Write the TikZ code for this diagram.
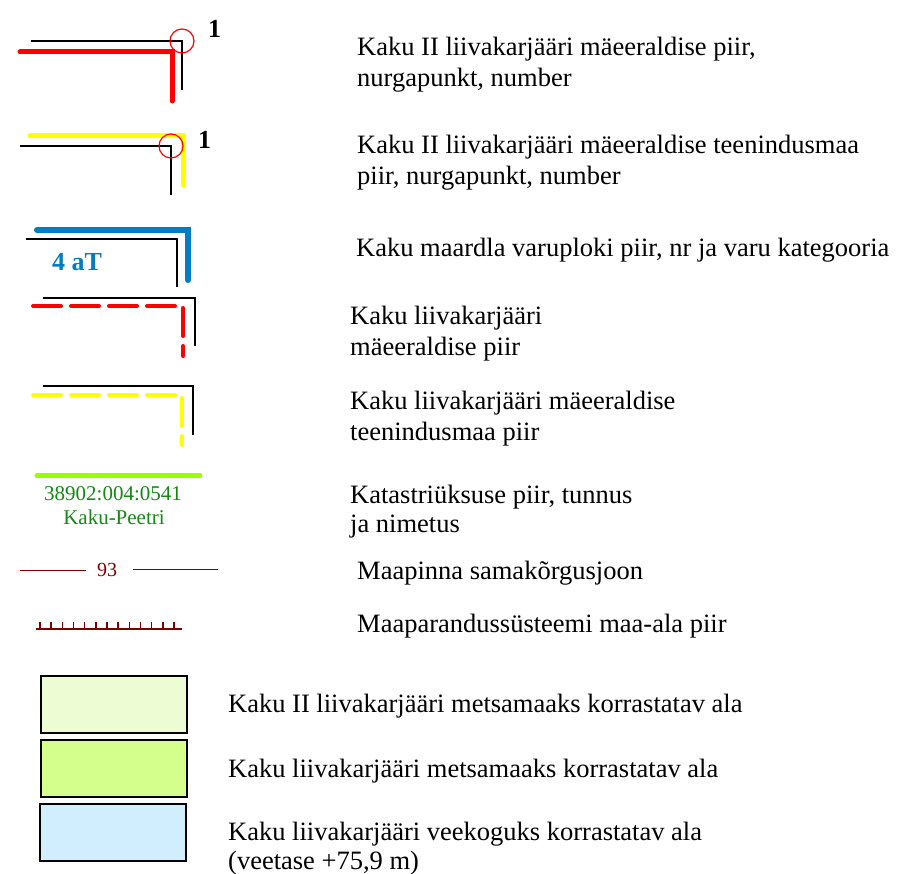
\documentclass[tikz,border=0pt]{standalone}
\usepackage{fontspec}
\setmainfont{Liberation Serif}
\definecolor{kred}{RGB}{255,0,0}
\definecolor{kyellow}{RGB}{255,255,0}
\definecolor{kblue}{RGB}{0,125,195}
\definecolor{klime}{RGB}{153,255,0}
\definecolor{kgreen}{RGB}{20,135,20}
\definecolor{kmaroon}{RGB}{128,0,0}
\definecolor{fillA}{RGB}{237,252,211}
\definecolor{fillB}{RGB}{213,255,141}
\definecolor{fillC}{RGB}{209,238,254}
\tikzset{
  thinblack/.style={draw=black, line width=1.1pt},
  bound/.style={line width=5pt, line cap=round},
  dashbound/.style={line width=4pt, line cap=round, dash pattern=on 28pt off 10pt},
  corner/.style={draw=kred, line width=1.2pt},
  legtext/.style={anchor=base west, align=left, inner sep=0pt, font=\fontsize{26.5}{31}\selectfont},
  legtextb/.style={anchor=base west, align=left, inner sep=0pt, font=\fontsize{26.5}{29}\selectfont},
  numlabel/.style={anchor=base west, inner sep=0pt, font=\fontsize{26}{30}\selectfont\bfseries},
  areabox/.style={draw=black, line width=1.2pt},
}
\begin{document}
\begin{tikzpicture}[x=1pt,y=-1pt]
\useasboundingbox (0,0) rectangle (898,874);

% 1: red boundary with corner point
\draw[thinblack] (31,41) -- (182,41) -- (182,90);
\draw[bound, draw=kred] (20,52) -- (172,52) -- (172,101);
\draw[corner] (182,41) circle (12);
\node[numlabel] (n1) at (208,38) {1};
\node[legtext] (t1) at (357,87) {Kaku II liivakarjääri mäeeraldise piir,\\nurgapunkt, number};

% 2: yellow boundary with corner point
\draw[bound, draw=kyellow] (30,136) -- (183,136) -- (183,185);
\draw[thinblack] (20,146) -- (171,146) -- (171,195);
\draw[corner] (171,146) circle (12);
\node[numlabel] (n2) at (198,149) {1};
\node[legtext] (t2) at (357,185) {Kaku II liivakarjääri mäeeraldise teenindusmaa\\piir, nurgapunkt, number};

% 3: blue reserve block
\draw[line width=6pt, line cap=round, draw=kblue] (37,230) -- (188,230) -- (188,280);
\draw[thinblack] (26,239) -- (177,239) -- (177,287);
\node[numlabel, text=kblue] (n3) at (52,271) {4 aT};
\node[legtext] (t3) at (356,257) {Kaku maardla varuploki piir, nr ja varu kategooria};

% 4: red dashed
\draw[thinblack] (43,298) -- (195,298) -- (195,346);
\draw[dashbound, draw=kred] (33,306) -- (183,306) -- (183,356);
\node[legtext] (t4) at (350,356) {Kaku liivakarjääri\\mäeeraldise piir};

% 5: yellow dashed
\draw[thinblack] (43,386) -- (193,386) -- (193,435);
\draw[dashbound, draw=kyellow] (33,395) -- (182,395) -- (182,445);
\node[legtext] (t5) at (350,441) {Kaku liivakarjääri mäeeraldise\\teenindusmaa piir};

% 6: cadastral boundary
\draw[bound, draw=klime] (37,476) -- (200,476);
\node[anchor=base, inner sep=0pt, text=kgreen, font=\fontsize{21}{24}\selectfont] (g1) at (113,501) {38902:004:0541};
\node[anchor=base, inner sep=0pt, text=kgreen, font=\fontsize{21}{24}\selectfont] (g2) at (114,525) {Kaku-Peetri};
\node[legtextb] (t6) at (350,533) {Katastriüksuse piir, tunnus\\ja nimetus};

% 7: contour line
\node[anchor=base west, inner sep=0pt, text=kmaroon, font=\fontsize{20}{24}\selectfont] (c93) at (97,577) {93};
\draw[draw=kmaroon, line width=1pt] (20,571) -- (86,571);
\draw[draw=kmaroon, line width=1pt] (133,570) -- (218,570);
\node[legtext] (t7) at (357,580) {Maapinna samakõrgusjoon};

% 8: drainage system
\draw[draw=kmaroon, line width=2pt] (36,629) -- (182,629);
\foreach \i in {0,...,12}{
  \draw[draw=kmaroon, line width=1.5pt] ({40+11.17*\i},629) -- ({40+11.17*\i},622);
}
\node[legtext] (t8) at (357,633) {Maaparandussüsteemi maa-ala piir};

% 9-11: areas
\draw[areabox, fill=fillA] (41,676) rectangle (187,733);
\node[legtext] (t9) at (228,713) {Kaku II liivakarjääri metsamaaks korrastatav ala};
\draw[areabox, fill=fillB] (41,740) rectangle (187,797);
\node[legtext] (t10) at (228,777) {Kaku liivakarjääri metsamaaks korrastatav ala};
\draw[areabox, fill=fillC] (40,804) rectangle (186,861);
\node[legtextb] (t11) at (228,869) {Kaku liivakarjääri veekoguks korrastatav ala\\(veetase +75,9 m)};
\end{tikzpicture}
\end{document}
